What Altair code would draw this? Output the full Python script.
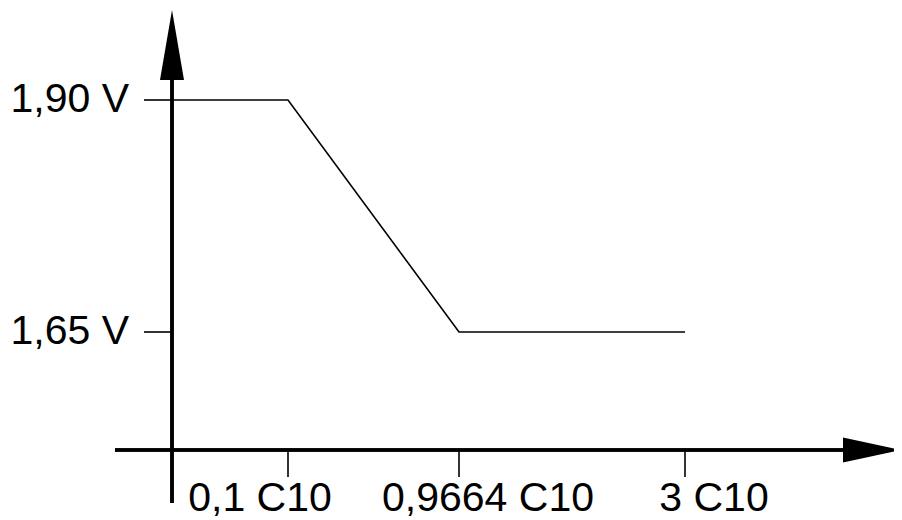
import altair as alt
import pandas as pd

# Data
x_points = [0, 0.1, 0.9664, 3]
y_points = [1.90, 1.90, 1.65, 1.65]
y_ticks = [1.90, 1.65]
y_labels = ["1,90 V", "1,65 V"]
x_ticks = [0.1, 0.9664, 3]
x_labels = ["0,1 C10", "0,9664 C10", "3 C10"]

W, H = 886, 512
FONT = "Liberation Sans"

line_df = pd.DataFrame({"x": x_points, "y": y_points})
yt_df = pd.DataFrame({"y": y_ticks, "label": y_labels})
xt_df = pd.DataFrame({"x": x_ticks, "label": x_labels})

xscale = alt.Scale(type="linear", domain=[0, 0.1, 0.9664, 3],
                   range=[164, 280, 451, 677], nice=False, zero=False, clamp=False)
yscale = alt.Scale(type="linear", domain=[1.65, 1.90], range=[324, 92],
                   nice=False, zero=False, clamp=False)

X = lambda f: alt.X(f, type="quantitative", scale=xscale, axis=None)
Y = lambda f: alt.Y(f, type="quantitative", scale=yscale, axis=None)

data_line = alt.Chart(line_df).mark_line(color="black", strokeWidth=1.6).encode(
    x=X("x"), y=Y("y"), order=alt.Order("x:Q"))

y_tick_rules = alt.Chart(yt_df).mark_rule(color="black", strokeWidth=1.6).encode(
    y=Y("y"), x=alt.value(136), x2=alt.value(164))

y_tick_text = alt.Chart(yt_df).mark_text(
    font=FONT, fontSize=41, align="right", baseline="middle", color="black"
).encode(y=Y("y"), x=alt.value(121), text="label:N")

x_tick_rules = alt.Chart(xt_df).mark_rule(color="black", strokeWidth=1.6).encode(
    x=X("x"), y=alt.value(442), y2=alt.value(469))

x_text_first = alt.Chart(xt_df.iloc[:1]).mark_text(
    font=FONT, fontSize=41, align="center", baseline="alphabetic", dx=-28, color="black"
).encode(x=X("x"), y=alt.value(503), text="label:N")

x_text_rest = alt.Chart(xt_df.iloc[1:]).mark_text(
    font=FONT, fontSize=41, align="center", baseline="alphabetic", dx=29, color="black"
).encode(x=X("x"), y=alt.value(503), text="label:N")

# axes with arrowheads
y_axis = alt.Chart(line_df).mark_rule(color="black", strokeWidth=3).encode(
    x=alt.value(164), y=alt.value(72), y2=alt.value(495))
x_axis = alt.Chart(line_df).mark_rule(color="black", strokeWidth=3).encode(
    y=alt.value(442), x=alt.value(107), x2=alt.value(836))

up_arrow = alt.Chart(line_df.iloc[:1]).mark_point(
    shape="M0,-1L0.343,1L-0.343,1Z", size=4900, filled=True, color="black",
    opacity=1, strokeWidth=0
).encode(x=alt.value(164), y=alt.value(37))

right_arrow = alt.Chart(line_df.iloc[:1]).mark_point(
    shape="M1,0L-1,0.43L-1,-0.43Z", size=3364, filled=True, color="black",
    opacity=1, strokeWidth=0
).encode(x=alt.value(864), y=alt.value(442))

chart = alt.layer(
    y_axis, x_axis, up_arrow, right_arrow,
    y_tick_rules, x_tick_rules, data_line,
    y_tick_text, x_text_first, x_text_rest
).properties(
    width=W, height=H, autosize=alt.AutoSizeParams(type="none"), padding=0,
    background="white"
).configure_view(stroke=None)

chart.save("out.html", embed_options={"renderer": "svg", "actions": False})
